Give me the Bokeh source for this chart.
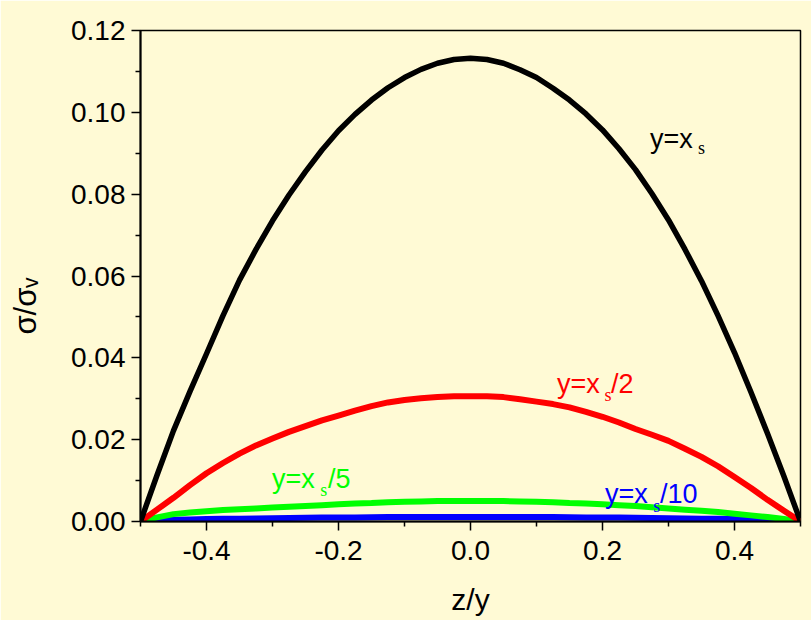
from bokeh.plotting import figure
from bokeh.models import Range1d, FixedTicker, Label
from bokeh.embed import file_html
from bokeh.resources import INLINE

# ---- data ----
z = [-0.5, -0.475, -0.45, -0.425, -0.4, -0.375, -0.35, -0.325, -0.3, -0.275, -0.25, -0.225,
     -0.2, -0.175, -0.15, -0.125, -0.1, -0.075, -0.05, -0.025, 0.0,
     0.025, 0.05, 0.075, 0.1, 0.125, 0.15, 0.175, 0.2, 0.225, 0.25, 0.275,
     0.3, 0.325, 0.35, 0.375, 0.4, 0.425, 0.45, 0.475, 0.5]
sig_xs = [0.0, 0.0113, 0.0222, 0.0318, 0.0410, 0.0503, 0.0590, 0.0665, 0.0735, 0.0798, 0.0855, 0.0908,
          0.0955, 0.0995, 0.1030, 0.1060, 0.1085, 0.1105, 0.1120, 0.1129, 0.1132,
          0.1129, 0.1120, 0.1104, 0.1085, 0.1059, 0.1030, 0.0996, 0.0957, 0.0911, 0.0860, 0.0801,
          0.0737, 0.0665, 0.0588, 0.0503, 0.0413, 0.0316, 0.0215, 0.0110, 0.0]
sig_xs2 = [0.0, 0.0029, 0.0058, 0.0089, 0.0118, 0.0143, 0.0166, 0.0186, 0.0203, 0.0219, 0.0233, 0.0247,
           0.0259, 0.0271, 0.0282, 0.0291, 0.0297, 0.0301, 0.0304, 0.0306, 0.0306,
           0.0306, 0.0304, 0.0299, 0.0293, 0.0287, 0.0279, 0.0268, 0.0256, 0.0242, 0.0226, 0.0212,
           0.0197, 0.0178, 0.0158, 0.0135, 0.0109, 0.0082, 0.0053, 0.0026, 0.0]
sig_xs5 = [0.0, 0.0010, 0.0018, 0.0022, 0.0025, 0.0028, 0.0030, 0.0032, 0.0034, 0.0036, 0.0038, 0.0040,
           0.0042, 0.0044, 0.0045, 0.0047, 0.0048, 0.0049, 0.0050, 0.0050, 0.0050,
           0.0050, 0.0050, 0.0049, 0.0048, 0.0047, 0.0045, 0.0044, 0.0042, 0.0040, 0.0038, 0.0035,
           0.0032, 0.0029, 0.0026, 0.0023, 0.0019, 0.0015, 0.0011, 0.0006, 0.0]
sig_xs10 = [0.0, 0.0002, 0.0004, 0.0005, 0.0006, 0.00065, 0.0007, 0.00075, 0.0008, 0.00085, 0.0009, 0.00095,
            0.0010, 0.0010, 0.00105, 0.0011, 0.0011, 0.0011, 0.0011, 0.0011, 0.0011,
            0.0011, 0.0011, 0.0011, 0.0011, 0.0011, 0.00105, 0.0010, 0.0010, 0.00095, 0.0009, 0.00085,
            0.0008, 0.00075, 0.0007, 0.00065, 0.0006, 0.0005, 0.0004, 0.0002, 0.0]

x_ticks = [-0.4, -0.2, 0.0, 0.2, 0.4]
x_tick_labels = ["-0.4", "-0.2", "0.0", "0.2", "0.4"]
x_minor = [-0.5, -0.3, -0.1, 0.1, 0.3, 0.5]
y_ticks = [0.0, 0.02, 0.04, 0.06, 0.08, 0.10, 0.12]
y_tick_labels = ["0.00", "0.02", "0.04", "0.06", "0.08", "0.10", "0.12"]
y_minor = [0.01, 0.03, 0.05, 0.07, 0.09, 0.11]

BG = "#FFFAD5"
FONT = "Liberation Sans"
SERIF = "Liberation Serif"
TICK_FS = "28px"
FS = "27px"
SUB_FS = "18px"

p = figure(width=811, height=620, x_range=Range1d(-0.5, 0.5), y_range=Range1d(0, 0.12),
           output_backend="svg", toolbar_location=None,
           min_border_left=140, min_border_right=11, min_border_top=30, min_border_bottom=99)
p.background_fill_color = BG
p.border_fill_color = BG
p.grid.visible = False
p.outline_line_color = "black"
p.outline_line_width = 1.5

for ax in (p.xaxis[0], p.yaxis[0]):
    ax.axis_line_width = 2
    ax.axis_line_color = "black"
    ax.major_tick_line_color = "black"
    ax.minor_tick_line_color = "black"
    ax.major_tick_line_width = 1.5
    ax.minor_tick_line_width = 1.5
    ax.major_tick_in = 0
    ax.major_tick_out = 9
    ax.minor_tick_in = 0
    ax.minor_tick_out = 5
    ax.major_label_text_font = FONT
    ax.major_label_text_font_size = TICK_FS
    ax.major_label_text_color = "black"
    ax.axis_label_text_font = FONT
    ax.axis_label_text_font_style = "normal"
    ax.axis_label_text_color = "black"

p.xaxis.ticker = FixedTicker(ticks=x_ticks, minor_ticks=x_minor)
p.xaxis.major_label_overrides = {t: l for t, l in zip(x_ticks, x_tick_labels)}
p.xaxis.major_label_standoff = 10
p.xaxis.axis_label = "z/y"
p.xaxis.axis_label_text_font_size = "30px"
p.xaxis.axis_label_standoff = 20

p.yaxis.ticker = FixedTicker(ticks=y_ticks, minor_ticks=y_minor)
p.yaxis.major_label_overrides = {t: l for t, l in zip(y_ticks, y_tick_labels)}
p.yaxis.major_label_standoff = 6
p.yaxis.axis_label = "σ/σ\u1d65" + "\u00a0" * 7
p.yaxis.axis_label_text_font_size = "31px"
p.yaxis.axis_label_standoff = 25

p.line(z, sig_xs10, line_color="#0000FF", line_width=6, line_join="round")
p.line(z, sig_xs5, line_color="#00FF00", line_width=6, line_join="round")
p.line(z, sig_xs2, line_color="#FF0000", line_width=6, line_join="round")
p.line(z, sig_xs, line_color="#000000", line_width=5.5, line_join="round")

def lab(x, y, text, color, font=FONT, size=FS):
    p.add_layout(Label(x=x, y=y, text=text, text_color=color, text_font=font,
                       text_font_size=size, text_align="left", text_baseline="alphabetic"))

# curve labels: main part, subscript s, tail
lab(0.272, 0.0936, "y=x", "black")
lab(0.3447, 0.0912, "s", "black", font=SERIF, size=SUB_FS)

lab(0.1311, 0.0337, "y=x", "#FF0000")
lab(0.2030, 0.0310, "s", "#FF0000", font=SERIF, size=SUB_FS)
lab(0.2129, 0.0337, "/2", "#FF0000")

lab(-0.3008, 0.0105, "y=x", "#00FF00")
lab(-0.2275, 0.0078, "s", "#00FF00", font=SERIF, size=SUB_FS)
lab(-0.2159, 0.0105, "/5", "#00FF00")

lab(0.2038, 0.0068, "y=x", "#0000FF")
lab(0.2770, 0.0039, "s", "#0000FF", font=SERIF, size=SUB_FS)
lab(0.2871, 0.0068, "/10", "#0000FF")

open("out.html", "w").write(file_html(p, INLINE))
